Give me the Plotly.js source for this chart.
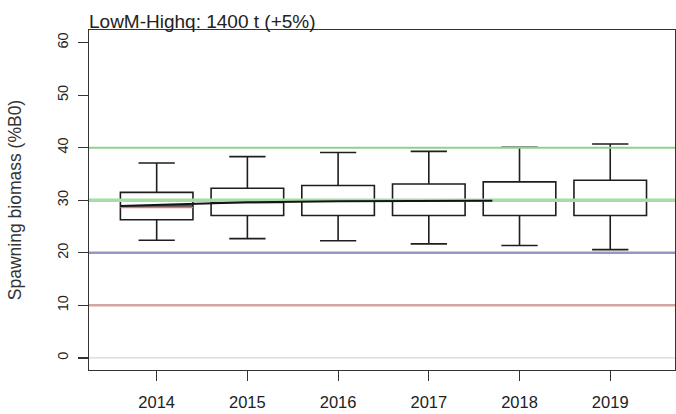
<!DOCTYPE html>
<html>
<head>
<meta charset="utf-8">
<script src="https://cdn.plot.ly/plotly-3.0.1.min.js"></script>
<style>html,body{margin:0;padding:0;background:#fff;}</style>
</head>
<body>
<div id="chart" style="width:676px;height:414px;"></div>
<script>
// ---- data ----
var years = ['2014', '2015', '2016', '2017', '2018', '2019'];
var lowerWhisker = [22.4, 22.7, 22.3, 21.7, 21.4, 20.6];
var q1 = [26.3, 27.1, 27.1, 27.1, 27.1, 27.1];
var median = [28.9, 29.6, 29.8, 29.9, 29.9, 30.0];
var q3 = [31.5, 32.3, 32.8, 33.1, 33.5, 33.8];
var upperWhisker = [37.1, 38.3, 39.1, 39.3, 40.1, 40.7];

// median trajectory line (years as decimal)
var trajYears = [2013.6, 2014.4, 2015, 2016, 2017, 2017.7];
var trajValues = [28.9, 29.3, 29.6, 29.8, 29.9, 29.9];

// current status segment
var statusYears = [2013.6, 2014.4];
var statusValues = [28.6, 28.6];

// reference levels (%B0)
var refLevels = [40, 30, 20, 10, 0];
var refColors = ['rgb(140,210,140)', 'rgb(165,222,165)', 'rgb(150,150,198)', 'rgb(212,165,160)', 'rgb(205,205,205)'];
var refWidths = [2, 3.5, 2.5, 2.5, 1];

var yTicks = [0, 10, 20, 30, 40, 50, 60];
var firstYear = 2013;

var xRange = [0.254, 6.714];
var yRange = [-2.3, 62.4];

var pos = years.map(function (y, i) { return i + 1; });
function toPos(arr) { return arr.map(function (y) { return y - firstYear; }); }

var traces = [];
traces.push({
  type: 'box',
  x: pos,
  q1: q1, median: median, q3: q3,
  lowerfence: lowerWhisker, upperfence: upperWhisker,
  width: 0.8,
  whiskerwidth: 0.5,
  fillcolor: 'rgba(0,0,0,0)',
  line: { color: 'rgb(30,30,30)', width: 1.6 },
  boxpoints: false,
  hoverinfo: 'skip',
  showlegend: false
});
refLevels.forEach(function (lv, i) {
  traces.push({
    type: 'scatter', mode: 'lines',
    x: xRange, y: [lv, lv],
    line: { color: refColors[i], width: refWidths[i] },
    hoverinfo: 'skip', showlegend: false
  });
});
traces.push({
  type: 'scatter', mode: 'lines',
  x: toPos(statusYears), y: statusValues,
  line: { color: 'rgb(222,120,120)', width: 1.5 },
  hoverinfo: 'skip', showlegend: false
});
traces.push({
  type: 'scatter', mode: 'lines',
  x: toPos(trajYears), y: trajValues,
  line: { color: 'rgb(20,20,20)', width: 2 },
  hoverinfo: 'skip', showlegend: false
});

var fontFam = 'Liberation Sans, Arial, sans-serif';
var layout = {
  width: 676, height: 414,
  margin: { l: 89, r: 1, t: 30, b: 44 },
  paper_bgcolor: '#fff', plot_bgcolor: '#fff',
  font: { family: fontFam, color: '#222' },
  title: {
    text: 'LowM-Highq: 1400 t (+5%)',
    font: { family: fontFam, size: 19, color: '#222' },
    xref: 'paper', x: 0, xanchor: 'left',
    yref: 'container', y: 1 - 21 / 414, yanchor: 'middle'
  },
  xaxis: {
    range: xRange,
    tickvals: pos, ticktext: years,
    ticks: 'outside', ticklen: 10, tickwidth: 1.2, tickcolor: '#333',
    showline: true, linecolor: '#333', linewidth: 1.3, mirror: true,
    showgrid: false, zeroline: false,
    tickfont: { size: 16.5, color: '#222' },
    ticklabelstandoff: 7,
    fixedrange: true
  },
  yaxis: {
    range: yRange,
    tickvals: yTicks,
    ticks: 'outside', ticklen: 10, tickwidth: 1.2, tickcolor: '#333',
    tickangle: -90,
    showline: true, linecolor: '#333', linewidth: 1.3, mirror: true,
    showgrid: false, zeroline: false,
    tickfont: { size: 14.5, color: '#222' },
    ticklabelstandoff: 4,
    title: { text: 'Spawning biomass (%B0)', font: { size: 17.5, color: '#333' }, standoff: 28 },
    automargin: false,
    fixedrange: true
  },
  showlegend: false
};

Plotly.newPlot('chart', traces, layout, { displayModeBar: false, staticPlot: true });
</script>
</body>
</html>
